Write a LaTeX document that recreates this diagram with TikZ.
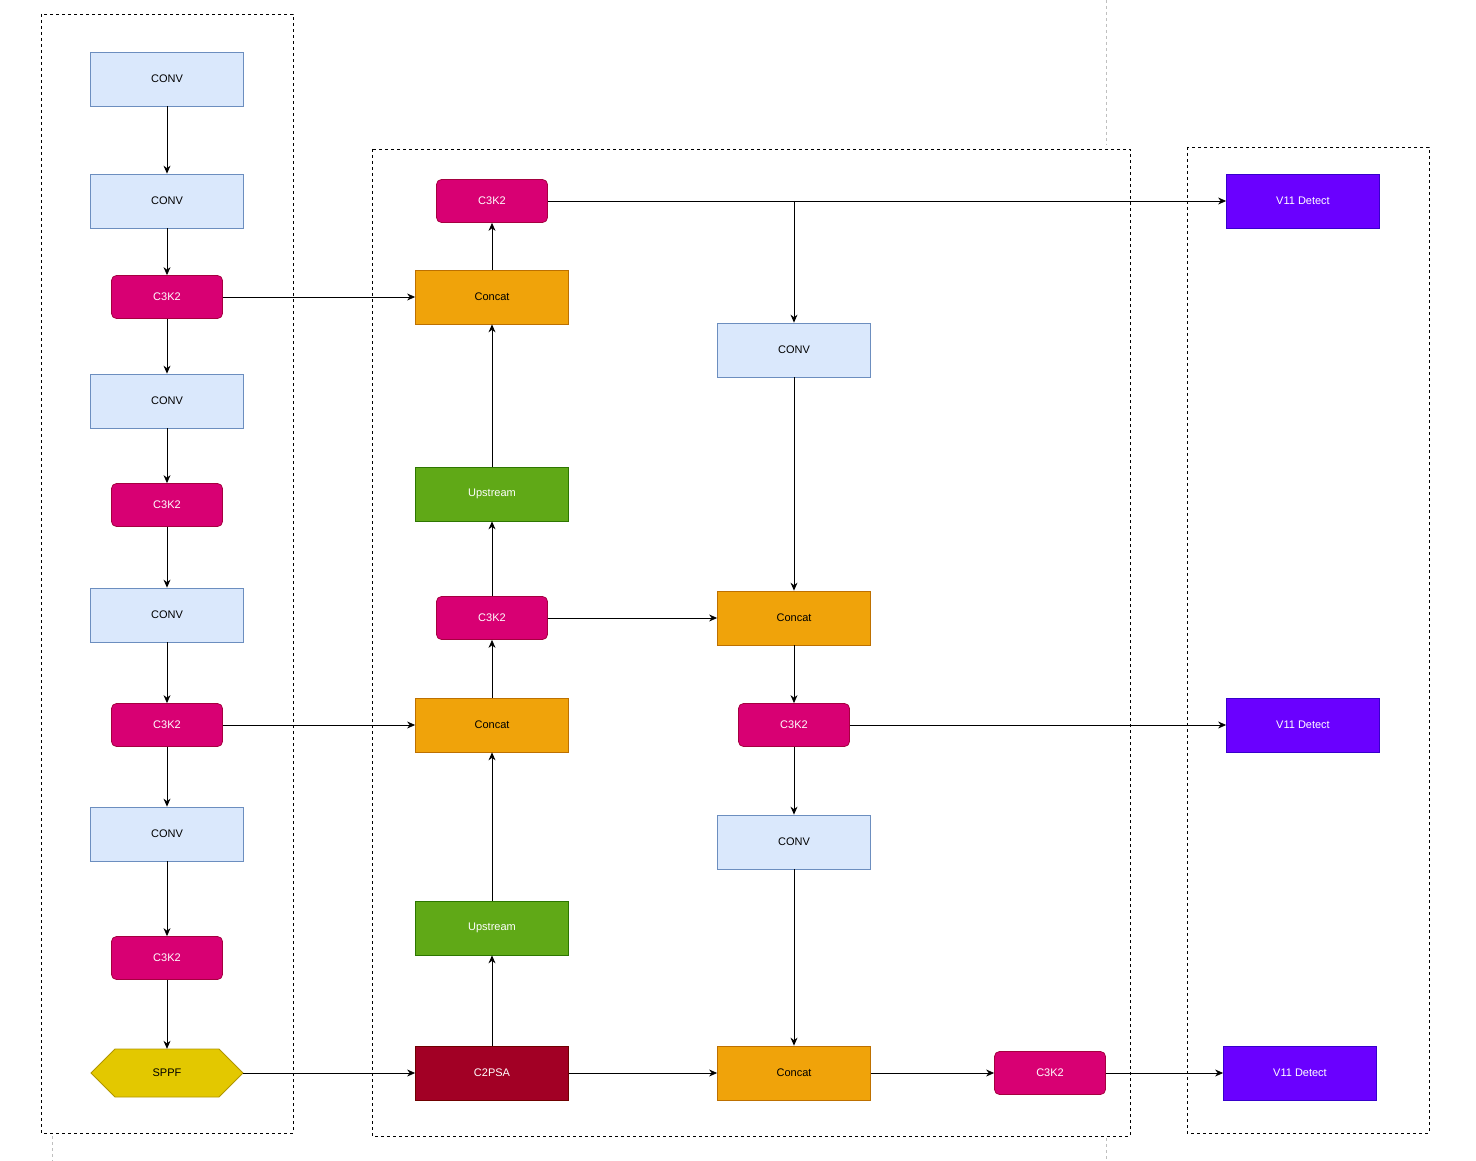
\documentclass[tikz,border=0pt]{standalone}
\usepackage{fontspec}
\setmainfont{Liberation Sans}
\usetikzlibrary{shapes.geometric,arrows.meta}
\definecolor{convF}{HTML}{DAE8FC}\definecolor{convD}{HTML}{6C8EBF}
\definecolor{cF}{HTML}{D80073}\definecolor{cD}{HTML}{A50040}
\definecolor{ccF}{HTML}{F0A30A}\definecolor{ccD}{HTML}{BD7000}
\definecolor{uF}{HTML}{60A917}\definecolor{uD}{HTML}{2D7600}
\definecolor{pF}{HTML}{A20025}\definecolor{pD}{HTML}{6F0000}
\definecolor{vF}{HTML}{6A00FF}\definecolor{vD}{HTML}{3700CC}
\definecolor{sF}{HTML}{E3C800}\definecolor{sD}{HTML}{B09500}
\begin{document}
\begin{tikzpicture}[x=1pt,y=-1pt,
 base/.style={draw,line width=0.8pt,inner sep=0pt,font=\fontsize{11}{13}\selectfont},
 conv/.style={base,fill=convF,draw=convD,minimum width=153pt,minimum height=54pt},
 c3/.style={base,fill=cF,draw=cD,text=white,rounded corners=5pt,minimum width=111pt,minimum height=43pt},
 cat/.style={base,fill=ccF,draw=ccD,minimum width=153pt,minimum height=54pt},
 up/.style={base,fill=uF,draw=uD,text=white,minimum width=153pt,minimum height=54pt},
 ps/.style={base,fill=pF,draw=pD,text=white,minimum width=153pt,minimum height=54pt},
 v/.style={base,fill=vF,draw=vD,text=white,minimum width=153pt,minimum height=54pt},
 grp/.style={draw,dashed,line width=0.7pt},
 e/.style={draw,line width=0.8pt,-{Stealth[length=8pt,width=7pt]}}]
\useasboundingbox (0,0) rectangle (1476,1161);
\draw[gray!50,dashed,line width=0.8pt] (1106,0)--(1106,145) (1106,1138)--(1106,1161) (52,1136)--(52,1161);
\draw[grp] (41,14) rectangle (293,1133);
\draw[grp] (372,149) rectangle (1130,1136);
\draw[grp] (1187,147) rectangle (1429,1133);
\node[conv] (l1) at (167,79) {CONV};
\node[conv] (l2) at (167,201) {CONV};
\node[c3] (l3) at (167,297) {C3K2};
\node[conv] (l4) at (167,401) {CONV};
\node[c3] (l5) at (167,505) {C3K2};
\node[conv] (l6) at (167,615) {CONV};
\node[c3] (l7) at (167,725) {C3K2};
\node[conv] (l8) at (167,834) {CONV};
\node[c3] (l9) at (167,958) {C3K2};
\node[base,fill=sF,draw=sD,regular polygon,regular polygon sides=6,shape border rotate=90,minimum size=10pt] at (0,-3000) {};
\path[base,fill=sF,draw=sD] (91,1073)--(115,1049)--(219,1049)--(243,1073)--(219,1097)--(115,1097)--cycle;
\node[inner sep=0pt,minimum width=152pt,minimum height=48pt,font=\fontsize{11}{13}\selectfont] (sp) at (167,1073) {SPPF};
\node[c3] (m1) at (492,201) {C3K2};
\node[cat] (m2) at (492,297) {Concat};
\node[up] (m3) at (492,494) {Upstream};
\node[c3] (m4) at (492,618) {C3K2};
\node[cat] (m5) at (492,725) {Concat};
\node[up] (m6) at (492,928) {Upstream};
\node[ps] (m7) at (492,1073) {C2PSA};
\node[conv] (r1) at (794,350) {CONV};
\node[cat] (r2) at (794,618) {Concat};
\node[c3] (r3) at (794,725) {C3K2};
\node[conv] (r4) at (794,842) {CONV};
\node[cat] (r5) at (794,1073) {Concat};
\node[c3] (r6) at (1050,1073) {C3K2};
\node[v] (v1) at (1303,201) {V11 Detect};
\node[v] (v2) at (1303,725) {V11 Detect};
\node[v] (v3) at (1300,1073) {V11 Detect};
\coordinate (br) at (794,201);
\foreach \a/\b in {l1/l2,l2/l3,l3/l4,l4/l5,l5/l6,l6/l7,l7/l8,l8/l9,l9/sp,
 l3/m2,l7/m5,sp/m7,m2/m1,m3/m2,m4/m3,m5/m4,m6/m5,m7/m6,m1/v1,br/r1,r1/r2,m4/r2,r2/r3,r3/v2,r3/r4,r4/r5,m7/r5,r5/r6,r6/v3}
 \draw[e] (\a)--(\b);
\end{tikzpicture}
\end{document}
